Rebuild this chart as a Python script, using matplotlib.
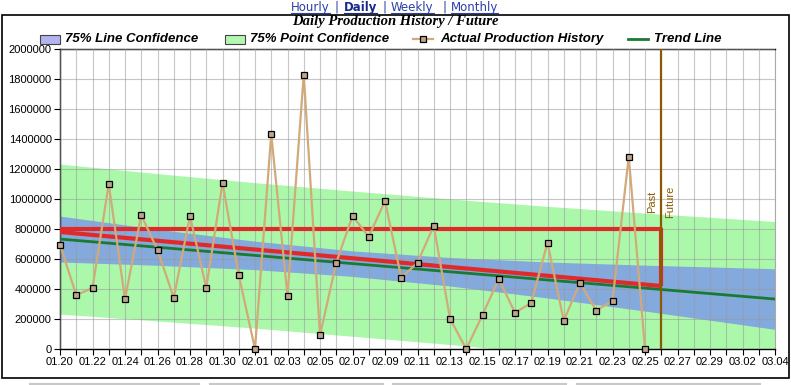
import matplotlib.pyplot as plt
from matplotlib.patches import Rectangle
from matplotlib.lines import Line2D

# Values (x = days after 01.20)
day_labels = ['01.20', '01.22', '01.24', '01.26', '01.28', '01.30', '02.01', '02.03',
              '02.05', '02.07', '02.09', '02.11', '02.13', '02.15', '02.17', '02.19',
              '02.21', '02.23', '02.25', '02.27', '02.29', '03.02', '03.04']
actual_days = list(range(37))
actual = [695000, 360000, 407000, 1100000, 333000, 893000, 660000, 342000, 887000,
          407000, 1107000, 493000, 0, 1433000, 353000, 1829000, 93000, 575000,
          887000, 749000, 987000, 475000, 575000, 822000, 202000, 0, 227000,
          467000, 242000, 307000, 709000, 189000, 442000, 256000, 322000, 1282000, 0]

band_days = [0, 6, 12, 18, 24, 30, 36, 44]
line_conf_hi = [886000, 798000, 719000, 654000, 610000, 580000, 559000, 535000]
line_conf_lo = [580000, 558000, 529000, 484000, 420000, 340000, 253000, 131000]
point_conf_hi = [1233000, 1169000, 1109000, 1053000, 1000000, 951000, 906000, 850000]
point_conf_lo = [233000, 187000, 139000, 85000, 30000, -31000, -94000, -184000]

trend_days = [0, 44]
trend = [733000, 333000]
fit_days = [0, 37]
fit_line = [780000, 420000]
level_days = [0, 37, 37]
level_line = [797000, 797000, 420000]
split_day = 37

W, H = 791, 385
fig = plt.figure(figsize=(W / 100, H / 100), dpi=100)
ax = fig.add_axes([60 / W, 1 - 349 / H, 715 / W, 300 / H])

green = '#abf8ab'
blue = '#84a9dc'
ax.fill_between(band_days, point_conf_lo, point_conf_hi, color=green, lw=0, zorder=1)
ax.fill_between(band_days, line_conf_lo, line_conf_hi, color=blue, lw=0, zorder=2)

ax.plot(trend_days, trend, color='#1b7a32', lw=2, zorder=4)
ax.plot(fit_days, fit_line, color='#e02a2a', lw=3, zorder=5, solid_capstyle='butt')
ax.plot(level_days, level_line, color='#e02a2a', lw=3, zorder=5, solid_capstyle='butt')
ax.plot(actual_days, actual, color='#d2aa7a', lw=1.6, zorder=6,
        marker='s', ms=5, mfc='#bba68e', mec='black', mew=0.9, clip_on=False)

ax.axvline(split_day, color='#8b5a00', lw=1.6, zorder=7)
ax.text(split_day - 0.25, 980000, 'Past', rotation=90, color='#8b5a00', fontsize=8,
        ha='right', va='center', family='Liberation Sans')
ax.text(split_day + 0.25, 980000, 'Future', rotation=90, color='#8b5a00', fontsize=8,
        ha='left', va='center', family='Liberation Sans')

ax.set_xlim(0, 44)
ax.set_ylim(0, 2000000)
ax.set_xticks(range(0, 45, 2))
ax.set_xticklabels(day_labels)
ax.set_xticks(range(1, 45, 2), minor=True)
yt = list(range(0, 2000001, 200000))
ax.set_yticks(yt)
ax.set_yticklabels([str(v) for v in yt])
ax.set_axisbelow(False)
ax.grid(True, which='both', axis='x', color='#999999', lw=0.8, alpha=0.55)
ax.grid(True, which='major', axis='y', color='#999999', lw=0.8, alpha=0.55)
ax.tick_params(which='both', direction='out', length=4, width=0.8, color='black',
               labelsize=8, pad=2)
for lab in ax.get_xticklabels() + ax.get_yticklabels():
    lab.set_family('Liberation Sans')
for s in ['left', 'bottom', 'top']:
    ax.spines[s].set_color('black')
    ax.spines[s].set_linewidth(1)
ax.spines['right'].set_color('#aaaaaa')

# title and legend row
fig.text(395 / W, 1 - 22 / H, 'Daily Production History / Future', ha='center', va='center',
         family='Liberation Serif', weight='bold', style='italic', fontsize=10.5)
ly = 1 - 39 / H
leg_font = dict(family='Liberation Sans', weight='bold', style='italic', fontsize=9.5,
                va='center', ha='left')
fig.add_artist(Rectangle((40 / W, ly - 4.5 / H), 20 / W, 9 / H, fc='#b3b3f0', ec='#444444',
                         lw=0.8, transform=fig.transFigure))
fig.text(65 / W, ly, '75% Line Confidence', **leg_font)
fig.add_artist(Rectangle((225 / W, ly - 4.5 / H), 20 / W, 9 / H, fc='#b3f7b3', ec='#444444',
                         lw=0.8, transform=fig.transFigure))
fig.text(250 / W, ly, '75% Point Confidence', **leg_font)
fig.add_artist(Line2D([413 / W, 433 / W], [ly, ly], color='#d2aa7a', lw=1.6,
                      transform=fig.transFigure))
fig.add_artist(Line2D([423 / W], [ly], marker='s', ms=5, mfc='#bba68e', mec='black',
                      mew=0.9, transform=fig.transFigure))
fig.text(440 / W, ly, 'Actual Production History', **leg_font)
fig.add_artist(Line2D([628 / W, 648 / W], [ly, ly], color='#1b7a32', lw=2,
                      transform=fig.transFigure))
fig.text(654 / W, ly, 'Trend Line', **leg_font)

# header links
link_y = 1 - 7 / H
links = [('Hourly', 291, 'normal', '#2b3fa8'), ('Daily', 344, 'bold', '#1a2a8a'),
         ('Weekly', 391, 'normal', '#2b3fa8'), ('Monthly', 451, 'normal', '#2b3fa8')]
texts = []
for word, x, w, c in links:
    t = fig.text(x / W, link_y, word, ha='left', va='center', fontsize=8.5,
                 family='DejaVu Sans', weight=w, color=c)
    texts.append(t)
for x in [337, 385, 444]:
    fig.text(x / W, link_y, '|', ha='center', va='center', fontsize=8.5,
             family='DejaVu Sans', color='#2b3fa8')
fig.canvas.draw()
r = fig.canvas.get_renderer()
for t in texts:
    bb = t.get_window_extent(r)
    fig.add_artist(Line2D([bb.x0 / W, bb.x1 / W], [(bb.y0 + 1) / H] * 2,
                          color=t.get_color(), lw=0.8, transform=fig.transFigure))

# outer frame and bits below
fig.add_artist(Rectangle((1.5 / W, 1 - 378 / H), 787.5 / W, 363.5 / H, fill=False,
                         ec='black', lw=1.2, transform=fig.transFigure))
for x0, x1 in [(30, 199), (210, 383), (393, 566), (577, 760)]:
    fig.add_artist(Line2D([x0 / W, x1 / W], [1 - 383.5 / H] * 2, color='#c8c8c8', lw=1.5,
                          transform=fig.transFigure))

fig.savefig('out.png', dpi=100)
